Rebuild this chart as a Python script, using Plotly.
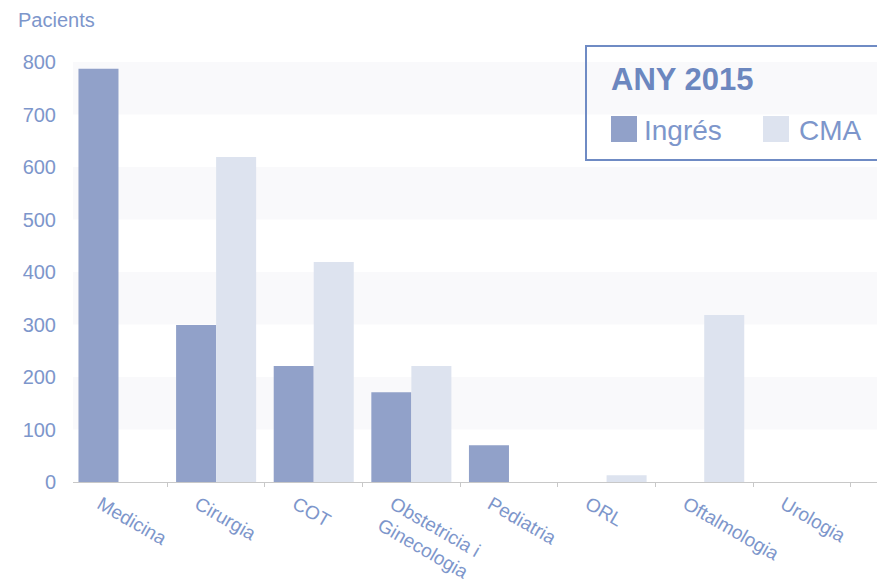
import plotly.graph_objects as go

categories = ["Medicina", "Cirurgia", "COT", "Obstetricia i<br>Ginecologia",
              "Pediatria", "ORL", "Oftalmologia", "Urologia"]
ingres = [787, 299, 221, 171, 70, 0, 0, 0]
cma = [0, 619, 419, 221, 0, 13, 318, 0]
series_names = ["Ingrés", "CMA"]
y_ticks = [0, 100, 200, 300, 400, 500, 600, 700, 800]
legend_title = "ANY 2015"
y_title = "Pacients"

c_ingres = "#91a1c9"
c_cma = "#dde3ef"
txt = "#7d96cb"
font_family = "Liberation Sans, Arial, sans-serif"

fig = go.Figure()
fig.add_trace(go.Bar(x=categories, y=ingres, name=series_names[0],
                     marker=dict(color=c_ingres, line=dict(width=0)), showlegend=False))
fig.add_trace(go.Bar(x=categories, y=cma, name=series_names[1],
                     marker=dict(color=c_cma, line=dict(width=0)), showlegend=False))

shapes = []
# alternating background bands
for i in range(1, len(y_ticks) - 1, 2):
    shapes.append(dict(type="rect", xref="paper", yref="y", x0=0, x1=1,
                       y0=y_ticks[i], y1=y_ticks[i + 1], fillcolor="#f9f9fb",
                       line=dict(width=0), layer="below"))

# manual legend box
L, R, T, B = 73, 877, 62, 482
W, H = R - L, B - T
def px(x):
    return (x - L) / W
def py(y):
    return (B - y) / H

shapes.append(dict(type="rect", xref="paper", yref="paper",
                   x0=px(586), x1=px(900), y0=py(160), y1=py(46),
                   line=dict(color="#6f8bc4", width=2), fillcolor="rgba(0,0,0,0)"))
shapes.append(dict(type="rect", xref="paper", yref="paper",
                   x0=px(611), x1=px(637), y0=py(142), y1=py(116),
                   line=dict(width=0), fillcolor=c_ingres))
shapes.append(dict(type="rect", xref="paper", yref="paper",
                   x0=px(763), x1=px(789), y0=py(142), y1=py(116),
                   line=dict(width=0), fillcolor=c_cma))

annotations = [
    dict(text=y_title, xref="paper", yref="paper", x=px(16), y=py(20),
         xanchor="left", yanchor="middle", showarrow=False,
         font=dict(size=20, color=txt, family=font_family)),
    dict(text="<b>" + legend_title + "</b>", xref="paper", yref="paper",
         x=px(609), y=py(80), xanchor="left", yanchor="middle", showarrow=False,
         font=dict(size=31, color="#6c87bf", family=font_family)),
    dict(text=series_names[0], xref="paper", yref="paper", x=px(642), y=py(130),
         xanchor="left", yanchor="middle", showarrow=False,
         font=dict(size=28, color=txt, family=font_family)),
    dict(text=series_names[1], xref="paper", yref="paper", x=px(797), y=py(130),
         xanchor="left", yanchor="middle", showarrow=False,
         font=dict(size=28, color=txt, family=font_family)),
]

fig.update_layout(
    width=877, height=582,
    margin=dict(l=L, r=877 - R, t=T, b=582 - B, autoexpand=False),
    paper_bgcolor="white", plot_bgcolor="white",
    barmode="group", bargap=0.18, bargroupgap=0,
    font=dict(family=font_family, color=txt),
    shapes=shapes, annotations=annotations,
    showlegend=False,
)
fig.update_xaxes(range=[-0.466, 7.77], showline=True, linecolor="#c8c8c8", linewidth=1,
                 ticks="outside", tickson="boundaries", ticklen=4, tickcolor="#c8c8c8",
                 tickangle=30, tickfont=dict(size=19, color=txt, family=font_family),
                 showgrid=False, zeroline=False, ticklabelshift=-18, ticklabelstandoff=3,
                 automargin=False)
fig.update_yaxes(range=[0, 800], tickvals=y_ticks, showgrid=False, zeroline=False,
                 showline=False, ticks="", ticklabelstandoff=16, automargin=False,
                 tickfont=dict(size=20, color=txt, family=font_family))

fig.write_html("out.html", config={"displayModeBar": False},
               post_script="document.body.style.margin='0';document.body.style.overflow='hidden';")
